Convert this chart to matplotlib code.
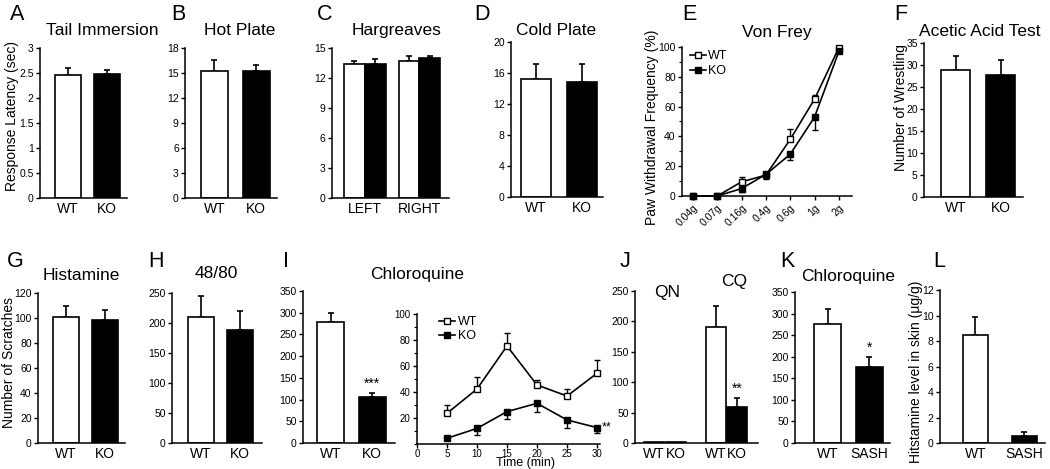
import numpy as np
import matplotlib
matplotlib.use("Agg")
import matplotlib.pyplot as plt
from matplotlib.ticker import MultipleLocator, FuncFormatter

plt.rcParams['font.family'] = ['Liberation Sans', 'DejaVu Sans']

W, H = 1050, 469

# --- data ---
groups = ['WT', 'KO']
groups_sash = ['WT', 'SASH']

tail_vals = [2.46, 2.47]
tail_err = [0.14, 0.09]

hot_vals = [15.2, 15.2]
hot_err = [1.3, 0.75]

harg_sides = ['LEFT', 'RIGHT']
harg_wt = [13.35, 13.7]
harg_wt_err = [0.3, 0.5]
harg_ko = [13.35, 14.0]
harg_ko_err = [0.5, 0.2]

cold_vals = [15.2, 14.9]
cold_err = [2.0, 2.3]

vf_labels = ['0.04g', '0.07g', '0.16g', '0.4g', '0.6g', '1g', '2g']
vf_wt = [0, 0, 9.5, 14, 38, 65, 99.5]
vf_wt_err = [0, 0, 3.5, 2, 7, 3, 0]
vf_ko = [0, 0, 5, 14.5, 28, 53, 97]
vf_ko_err = [0, 0, 2, 3, 4, 9, 1]

acetic_vals = [28.9, 27.8]
acetic_err = [3.1, 3.3]

hist_vals = [100.5, 98.5]
hist_err = [9.5, 8]

c4880_vals = [210, 189]
c4880_err = [35, 31]

cq_vals = [279, 105]
cq_err = [21, 11]

cq_time = [5, 10, 15, 20, 25, 30]
cq_wt_t = [23.6, 42.3, 75.4, 45.4, 36.9, 54.4]
cq_wt_t_err = [6.4, 9.5, 10.2, 3.8, 5.1, 10.2]
cq_ko_t = [4.4, 12, 24.9, 31.3, 18.5, 12.6]
cq_ko_t_err = [0, 5, 5.7, 6.4, 6, 4.4]

j_labels = ['WT', 'KO', 'WT', 'KO']
j_vals = [1, 1, 191, 59]
j_err = [0, 0, 34, 15]

k_vals = [276, 176]
k_err = [35, 24]

l_vals = [8.45, 0.58]
l_err = [1.4, 0.3]


fig = plt.figure(figsize=(W / 100, H / 100), dpi=100)


def px_axes(x0, y0, x1, y1):
    return fig.add_axes([x0 / W, 1 - y1 / H, (x1 - x0) / W, (y1 - y0) / H])


def px_text(x, y, s, size=12, **kw):
    kw.setdefault('ha', 'center')
    kw.setdefault('va', 'center')
    fig.text(x / W, 1 - y / H, s, fontsize=size, **kw)


def style(ax, labelsize=7.5):
    for side in ['top', 'right']:
        ax.spines[side].set_visible(False)
    for side in ['left', 'bottom']:
        ax.spines[side].set_linewidth(1.1)
    ax.tick_params(direction='out', length=3, width=1, labelsize=labelsize, pad=1.5)
    ax.yaxis.set_major_formatter(FuncFormatter(lambda v, p: f'{v:g}'))
    ax.patch.set_alpha(0)


def bar_panel(rect, vals, errs, labels, ymax, step, xlim=(-0.7, 1.5), width=0.65):
    ax = px_axes(*rect)
    x = np.arange(len(vals))
    ax.bar(x, vals, width, color=['white', 'black'], edgecolor='black', linewidth=1.2, zorder=2)
    ax.errorbar(x, vals, yerr=[np.zeros(len(errs)), errs], fmt='none', ecolor='black',
                elinewidth=1.2, capsize=2.5, capthick=1.2, zorder=1)
    ax.set_ylim(0, ymax)
    ax.set_xlim(*xlim)
    ax.yaxis.set_major_locator(MultipleLocator(step))
    ax.set_xticks(x)
    ax.set_xticklabels(labels)
    style(ax)
    ax.tick_params(axis='x', length=0, labelsize=10, pad=3)
    return ax


def line_series(ax, x, y, err, up, face, label, ms=4.5):
    lower = np.zeros(len(err)) if up else err
    upper = err if up else np.zeros(len(err))
    ax.errorbar(x, y, yerr=[lower, upper], fmt='none', ecolor='black', elinewidth=1,
                capsize=2, clip_on=False, zorder=2)
    ax.plot(x, y, color='black', lw=1.2, marker='s', ms=ms, mfc=face, mec='black', mew=1,
            label=label, clip_on=False, zorder=3)


# ---------- row 1 ----------
bar_panel((40, 48, 127, 198), tail_vals, tail_err, groups, 3, 0.5)
bar_panel((185, 48, 277, 198), hot_vals, hot_err, groups, 18, 3)

# Hargreaves, grouped bars
ax_c = px_axes(332, 48, 449, 198)
xc = np.arange(len(harg_sides))
bw = 0.38
ax_c.bar(xc - bw / 2, harg_wt, bw, color='white', edgecolor='black', linewidth=1.2, zorder=2)
ax_c.bar(xc + bw / 2, harg_ko, bw, color='black', edgecolor='black', linewidth=1.2, zorder=2)
ax_c.errorbar(xc - bw / 2, harg_wt, yerr=[np.zeros(2), harg_wt_err], fmt='none', ecolor='black',
              elinewidth=1.2, capsize=2.5, capthick=1.2, zorder=1)
ax_c.errorbar(xc + bw / 2, harg_ko, yerr=[np.zeros(2), harg_ko_err], fmt='none', ecolor='black',
              elinewidth=1.2, capsize=2.5, capthick=1.2, zorder=1)
ax_c.set_ylim(0, 15)
ax_c.set_xlim(-0.6, 1.54)
ax_c.yaxis.set_major_locator(MultipleLocator(3))
ax_c.set_xticks(xc)
ax_c.set_xticklabels(harg_sides)
style(ax_c)
ax_c.tick_params(axis='x', length=0, labelsize=10, pad=3)

bar_panel((511, 42, 603, 197), cold_vals, cold_err, groups, 20, 4, xlim=(-0.55, 1.46))

# Von Frey
ax_e = px_axes(682, 47, 852, 196)
xe = np.arange(len(vf_labels))
line_series(ax_e, xe, vf_wt, vf_wt_err, True, 'white', 'WT')
line_series(ax_e, xe, vf_ko, vf_ko_err, False, 'black', 'KO')
ax_e.set_ylim(0, 100)
ax_e.set_xlim(-0.45, 6.54)
ax_e.yaxis.set_major_locator(MultipleLocator(20))
ax_e.yaxis.set_minor_locator(MultipleLocator(10))
ax_e.set_xticks(xe)
ax_e.set_xticklabels(vf_labels, rotation=45, ha='right', rotation_mode='anchor')
style(ax_e, labelsize=7.5)
ax_e.tick_params(axis='x', labelsize=7.5, pad=2)
ax_e.tick_params(which='minor', length=2, width=0.8)
ax_e.legend(loc='upper left', bbox_to_anchor=(0.0, 1.03), frameon=False, fontsize=9,
            handlelength=1.3, handletextpad=0.2, labelspacing=0.25, borderaxespad=0.2)

bar_panel((924, 43, 1023, 197), acetic_vals, acetic_err, groups, 35, 5)

# ---------- row 2 ----------
bar_panel((38, 293, 125, 443), hist_vals, hist_err, groups, 120, 20)
bar_panel((172, 293, 262, 443), c4880_vals, c4880_err, groups, 250, 50, xlim=(-0.73, 1.55))
ax_i = bar_panel((303, 291, 395, 443), cq_vals, cq_err, groups, 350, 50, xlim=(-0.67, 1.55))
ax_i.text(1, cq_vals[1] + cq_err[1] + 4, '***', ha='center', va='bottom', fontsize=10)

# Chloroquine time course
ax_t = px_axes(417, 314, 600, 444)
line_series(ax_t, cq_time, cq_wt_t, cq_wt_t_err, True, 'white', 'WT')
line_series(ax_t, cq_time, cq_ko_t, cq_ko_t_err, False, 'black', 'KO', ms=4)
ax_t.set_xlim(0, 30.5)
ax_t.set_ylim(0, 100)
ax_t.set_xticks([0, 5, 10, 15, 20, 25, 30])
ax_t.set_yticks([20, 40, 60, 80, 100])
ax_t.yaxis.set_minor_locator(MultipleLocator(10))
style(ax_t, labelsize=7)
ax_t.tick_params(axis='x', labelsize=7, pad=0.5)
ax_t.tick_params(which='minor', length=2, width=0.8)
ax_t.text(30.8, cq_ko_t[-1], '**', ha='left', va='center', fontsize=9)
ax_t.legend(loc='upper left', bbox_to_anchor=(0.08, 1.04), frameon=False, fontsize=9,
            handlelength=1.3, handletextpad=0.2, labelspacing=0.15, borderaxespad=0.2)
px_text(526, 463, 'Time (min)', size=9)

# QN / CQ
ax_j = px_axes(635, 291, 758, 443)
xj = np.array([0, 1, 2.8, 3.75])
ax_j.bar(xj, j_vals, 0.93, color=['white', 'black', 'white', 'black'], edgecolor='black',
         linewidth=1.2, zorder=2)
ax_j.errorbar(xj[2:], j_vals[2:], yerr=[np.zeros(2), j_err[2:]], fmt='none', ecolor='black',
              elinewidth=1.2, capsize=2.5, capthick=1.2, zorder=1)
ax_j.set_ylim(0, 250)
ax_j.set_xlim(-0.86, 4.7)
ax_j.yaxis.set_major_locator(MultipleLocator(50))
ax_j.set_xticks(xj)
ax_j.set_xticklabels(j_labels)
style(ax_j)
ax_j.tick_params(axis='x', length=0, labelsize=10, pad=3)
ax_j.text(3.75, j_vals[3] + j_err[3] + 3, '**', ha='center', va='bottom', fontsize=10)
ax_j.text(0.6, 248, 'QN', ha='center', va='center', fontsize=12.5, clip_on=False)
ax_j.text(3.6, 265, 'CQ', ha='center', va='center', fontsize=12.5, clip_on=False)

ax_k = bar_panel((795, 292, 890, 443), k_vals, k_err, groups_sash, 350, 50, xlim=(-0.79, 1.5))
ax_k.text(1, k_vals[1] + k_err[1] + 4, '*', ha='center', va='bottom', fontsize=10)

bar_panel((940, 290, 1045, 443), l_vals, l_err, groups_sash, 12, 2, xlim=(-0.72, 1.42), width=0.52)

# ---------- labels and titles ----------
for x, y, s in [(17, 15, 'A'), (178, 15, 'B'), (325, 15, 'C'), (482, 15, 'D'), (689, 15, 'E'),
                (901, 15, 'F'), (15, 261, 'G'), (156, 261, 'H'), (286, 261, 'I'), (625, 261, 'J'),
                (787, 261, 'K'), (939, 261, 'L')]:
    px_text(x, y, s, size=15.5)

for x, y, s in [(102, 30, 'Tail Immersion'), (240, 30, 'Hot Plate'), (397, 30, 'Hargreaves'),
                (556, 30, 'Cold Plate'), (777, 32, 'Von Frey'), (980, 32, 'Acetic Acid Test'),
                (81, 275, 'Histamine'), (216, 273, '48/80'), (417, 275, 'Chloroquine'),
                (848, 277, 'Chloroquine')]:
    px_text(x, y, s, size=12.5)

px_text(12, 116, 'Response Latency (sec)', size=10, rotation=90)
px_text(652, 127, 'Paw Withdrawal Frequency (%)', size=10, rotation=90)
px_text(901, 108, 'Number of Wrestling', size=10, rotation=90)
px_text(9, 363, 'Number of Scratches', size=10, rotation=90)
px_text(916, 372, 'Hitstamine level in skin (\u03bcg/g)', size=10, rotation=90)

fig.savefig('out.png', dpi=100)
